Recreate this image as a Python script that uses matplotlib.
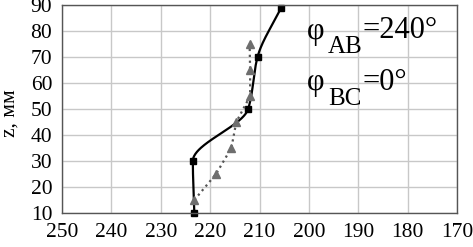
import numpy as np
import matplotlib
matplotlib.use('Agg')
import matplotlib.pyplot as plt

# solid curve (squares)
z_sq = [10, 30, 50, 70, 89]
x_sq = [223.2, 223.5, 212.3, 210.4, 205.6]

# dotted curve (triangles)
z_tri = [15, 25, 35, 45, 55, 65, 75]
x_tri = [223.2, 218.8, 215.7, 214.7, 211.9, 211.9, 212.0]

x_ticks = [250, 240, 230, 220, 210, 200, 190, 180, 170]
z_ticks = [10, 20, 30, 40, 50, 60, 70, 80, 90]


def pchip(xk, yk, xs):
    # monotone cubic used only to draw the smooth line
    xk = np.asarray(xk, float)
    yk = np.asarray(yk, float)
    h = np.diff(xk)
    d = np.diff(yk) / h
    n = len(xk)
    m = np.zeros(n)
    for k in range(1, n - 1):
        if d[k - 1] * d[k] > 0:
            w1 = 2 * h[k] + h[k - 1]
            w2 = h[k] + 2 * h[k - 1]
            m[k] = (w1 + w2) / (w1 / d[k - 1] + w2 / d[k])
    m[0] = d[0]
    m[-1] = d[-1]
    idx = np.clip(np.searchsorted(xk, xs) - 1, 0, n - 2)
    t = (xs - xk[idx]) / h[idx]
    h00 = 2 * t**3 - 3 * t**2 + 1
    h10 = t**3 - 2 * t**2 + t
    h01 = -2 * t**3 + 3 * t**2
    h11 = t**3 - t**2
    return (h00 * yk[idx] + h10 * h[idx] * m[idx]
            + h01 * yk[idx + 1] + h11 * h[idx] * m[idx + 1])


plt.rcParams['font.family'] = ['Liberation Serif', 'DejaVu Serif']

W, H = 473, 247
fig = plt.figure(figsize=(W / 100, H / 100), dpi=100)
ax = fig.add_axes([62 / W, 1 - 213 / H, 395 / W, 208 / H])

zs = np.linspace(z_sq[0], z_sq[-1], 300)
ax.plot(pchip(z_sq, x_sq, zs), zs, color='black', lw=1.6)
ax.plot(x_sq, z_sq, 's', color='black', ms=5, clip_on=False)

ax.plot(x_tri, z_tri, ':', color='#555555', lw=1.6)
ax.plot(x_tri, z_tri, '^', color='#6e6e6e', ms=5.5)

ax.set_xlim(250, 170)
ax.set_ylim(10, 90)
ax.set_xticks(x_ticks)
ax.set_yticks(z_ticks)
ax.grid(True, color='#c8c8c8', lw=1)
ax.tick_params(length=0, labelsize=15.5, colors='black')
ax.tick_params(axis='x', pad=7)
ax.tick_params(axis='y', pad=7)
for s in ax.spines.values():
    s.set_color('#555555')
    s.set_linewidth(1)

ax.set_ylabel('z, мм', fontsize=15.5)
ax.yaxis.set_label_coords(-(62 - 20) / 395, 0.478)


def px(x, y):
    return x / W, 1 - y / H


# phi labels with lowered subscripts
for base_y, sub, rest in [(38.5, 'AB', '=240°'), (90, 'BC', '=0°')]:
    fig.text(*px(307, base_y), 'φ', fontsize=22, va='baseline')
    fig.text(*px(328, base_y + 14.5), sub, fontsize=18, va='baseline')
    fig.text(*px(362, base_y), rest, fontsize=22, va='baseline')

fig.savefig('out.png', dpi=100)
